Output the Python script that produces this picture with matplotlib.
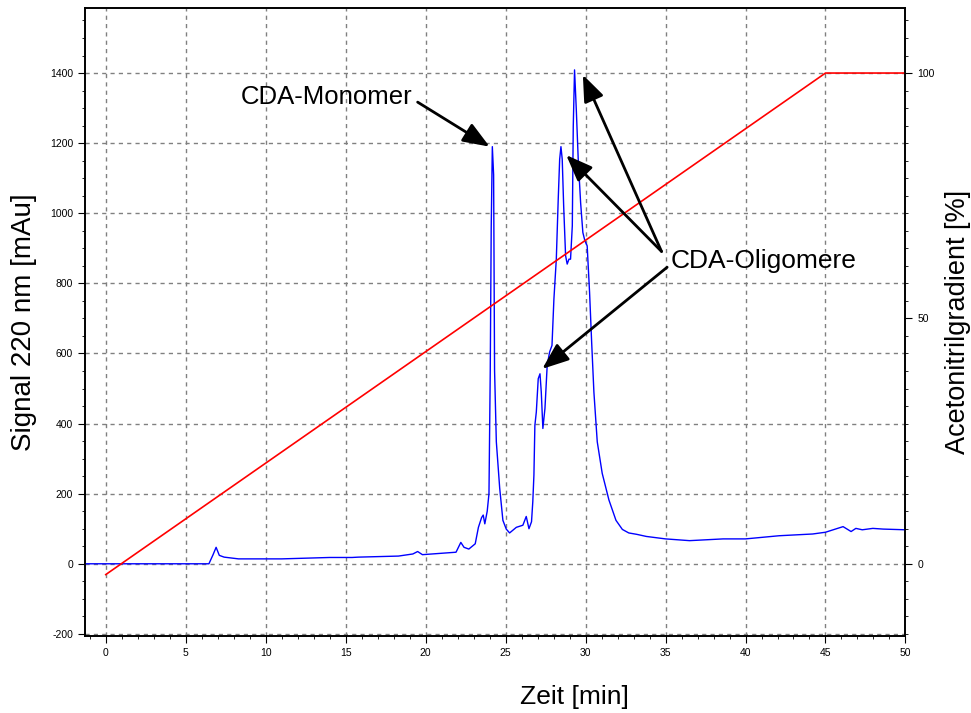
import matplotlib
matplotlib.use("Agg")
import matplotlib.pyplot as plt
from matplotlib.ticker import MultipleLocator, FixedLocator
import numpy as np

plt.rcParams['font.family'] = ['Liberation Sans', 'DejaVu Sans']
plt.rcParams['axes.unicode_minus'] = False

# chromatogram, signal at 220 nm [mAu]
time_min = [-1.3, 6.45, 6.7, 6.9, 7.1, 7.4, 8.3, 11.0, 14.0, 15.4, 15.8, 18.3,
            19.2, 19.5, 19.8, 20.4, 21.9, 22.2, 22.4, 22.7, 23.1, 23.3, 23.5,
            23.6, 23.7, 23.85, 23.96, 24.04, 24.1, 24.17, 24.25, 24.31, 24.42,
            24.63, 24.83, 25.04, 25.25, 25.67, 26.08, 26.29, 26.46, 26.62, 26.7,
            26.77, 26.83, 26.92, 27.04, 27.15, 27.23, 27.33, 27.46, 27.6, 27.75,
            27.9, 28.02, 28.17, 28.29, 28.38, 28.46, 28.54, 28.63, 28.75, 28.85,
            28.96, 29.06, 29.17, 29.23, 29.31, 29.42, 29.54, 29.69, 29.83, 29.96,
            30.1, 30.25, 30.38, 30.52, 30.73, 31.04, 31.46, 31.9, 32.3, 32.7,
            33.2, 33.8, 35.0, 36.5, 38.6, 40.0, 42.1, 44.2,
            45.0, 46.1, 46.6, 46.9, 47.3, 47.96, 48.6, 50.0]
signal = [0, 0, 25, 47, 24, 19, 14, 14, 18, 18, 19, 22,
          28, 35, 26, 28, 33, 61, 47, 42, 57, 104, 132,
          139, 114, 150, 200, 551, 958, 1190, 1110, 551, 348,
          216, 124, 99, 88, 104, 110, 135, 100, 120, 177,
          253, 395, 433, 528, 542, 490, 386, 443, 566, 604,
          623, 755, 869, 1040, 1154, 1190, 1154, 1021, 879, 855,
          869, 869, 964, 1248, 1409, 1296, 1154, 1030, 945, 921,
          907, 774, 632, 490, 348, 258, 182, 124, 98, 88,
          84, 78, 71, 66, 71, 71, 80, 85,
          90, 106, 92, 101, 97, 101, 99, 97]

# acetonitrile gradient [%]
grad_time = [0, 45, 50]
grad_pct = [-2.2, 100, 100]

fig = plt.figure(figsize=(9.71, 7.13), dpi=100)
ax = fig.add_axes([0.0875, 0.108, 0.845, 0.881])

ax.plot(time_min, signal, color='#0000ff', lw=1.0, zorder=3)
ax.set_xlim(-1.3, 50)
ax.set_ylim(-206, 1586)
ax.xaxis.set_major_locator(MultipleLocator(5))
ax.xaxis.set_minor_locator(MultipleLocator(1))
ax.yaxis.set_major_locator(MultipleLocator(200))
ax.yaxis.set_minor_locator(MultipleLocator(50))
ax.grid(True, which='major', color='#808080', ls=(0, (3, 3)), lw=1)
ax.tick_params(which='major', length=5, labelsize=7.5, direction='out')
ax.tick_params(which='minor', length=2.5, direction='out')
ax.set_xlabel('Zeit [min]', fontsize=19)
ax.xaxis.set_label_coords(0.596, -0.078)
ax.set_ylabel('Signal 220 nm [mAu]', fontsize=20)
ax.yaxis.set_label_coords(-0.0585, 0.5)

# right axis, scaled so 1400 mAu lines up with 100 %
ax2 = ax.twinx()
ax2.plot(grad_time, grad_pct, color='#ff0000', lw=1.2)
ax2.set_ylim(-206 / 14, 1586 / 14)
ax2.yaxis.set_major_locator(FixedLocator([0, 50, 100]))
ax2.yaxis.set_minor_locator(MultipleLocator(50 / 14))
ax2.tick_params(which='major', length=5, labelsize=7.5)
ax2.tick_params(which='minor', length=2.5)
ax2.set_ylabel('Acetonitrilgradient [%]', fontsize=19.5)
ax2.yaxis.set_label_coords(1.0488, 0.5)

for a in (ax, ax2):
    for s in a.spines.values():
        s.set_linewidth(1.2)

arrow = dict(arrowstyle='-|>,head_length=0.9,head_width=0.35', color='black',
             lw=2, shrinkA=0, shrinkB=0, mutation_scale=18)

ax2.text(13.8, 1331 / 14, 'CDA-Monomer', fontsize=18.5, ha='center', va='center')
ax2.annotate('', xy=(24.0, 1190), xycoords=ax.transData,
             xytext=(19.5, 1317), textcoords=ax.transData, arrowprops=arrow)

ax2.text(41.1, 863 / 14, 'CDA-Oligomere', fontsize=19, ha='center', va='center')
tips = [(29.83, 1395), (28.79, 1166), (27.29, 556)]
tails = [(34.75, 891), (34.75, 891), (35.1, 846)]
for tip, tail in zip(tips, tails):
    ax2.annotate('', xy=tip, xycoords=ax.transData,
                 xytext=tail, textcoords=ax.transData, arrowprops=arrow)

fig.savefig('out.png', dpi=100)
